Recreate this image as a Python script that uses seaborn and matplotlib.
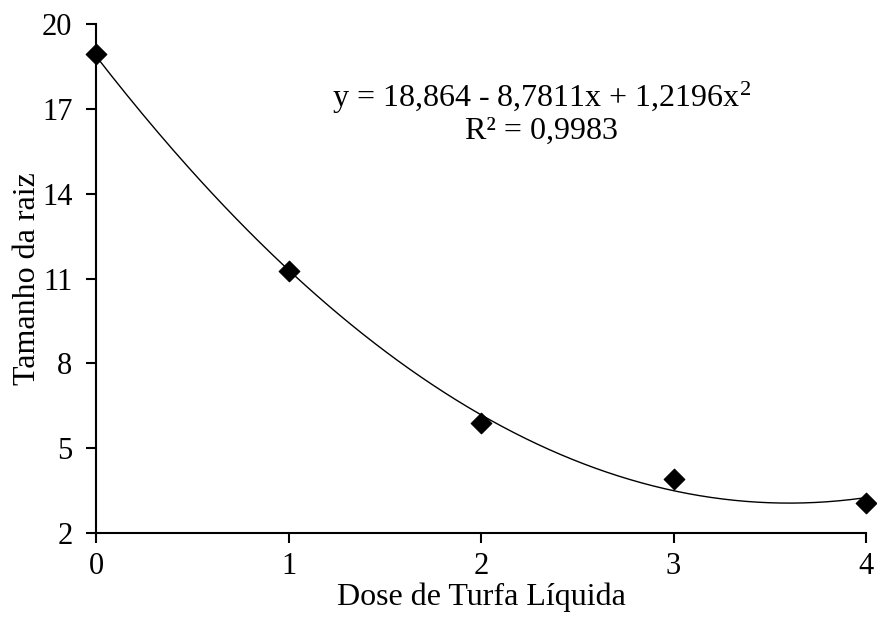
import numpy as np
import pandas as pd
import matplotlib
matplotlib.use("Agg")
import matplotlib.pyplot as plt
import seaborn as sns

# data
dose = [0, 1, 2, 3, 4]
raiz = [18.94, 11.27, 5.89, 3.91, 3.07]
# trendline coefficients as printed on the chart (c0, c1, c2)
coef = [18.864, -8.7811, 1.2196]
y_ticks = [2, 5, 8, 11, 14, 17, 20]
x_ticks = [0, 1, 2, 3, 4]

sns.set_style("ticks")
plt.rcParams['font.family'] = ['Liberation Serif', 'DejaVu Serif']
plt.rcParams['text.color'] = 'black'
plt.rcParams['axes.labelcolor'] = 'black'
plt.rcParams['mathtext.fontset'] = 'custom'
plt.rcParams['mathtext.rm'] = 'Liberation Serif'

df = pd.DataFrame({"dose": dose, "raiz": raiz})

fig = plt.figure(figsize=(8.77, 6.18), dpi=100)
ax = fig.add_axes([0.1095, 0.1375, 0.878, 0.8237])

# fitted curve from the printed equation
xs = np.linspace(dose[0], dose[-1], 200)
ys = coef[0] + coef[1] * xs + coef[2] * xs ** 2
sns.lineplot(x=xs, y=ys, ax=ax, color="black", linewidth=1.0)

sns.scatterplot(data=df, x="dose", y="raiz", ax=ax, marker="D", s=110,
                color="black", edgecolor="black", zorder=3, clip_on=False)

ax.set_xlim(0, 4)
ax.set_ylim(2, 20)
ax.set_xticks(x_ticks)
ax.set_yticks(y_ticks)
ax.tick_params(axis="both", labelsize=22, length=7, width=1.5, colors="black", pad=10)
ax.tick_params(axis="x", pad=7)
for s in ["left", "bottom"]:
    ax.spines[s].set_linewidth(1.5)
    ax.spines[s].set_color("black")
sns.despine(ax=ax)

ax.set_xlabel("Dose de Turfa Líquida", fontsize=23, labelpad=1)
ax.set_ylabel("Tamanho da raiz", fontsize=23, labelpad=0)

ax.text(0.579, 0.825, "y = 18,864 - 8,7811x + 1,2196x$\\mathrm{^2}$\nR² = 0,9983",
        transform=ax.transAxes, ha="center", va="center", fontsize=23,
        linespacing=1.05)

fig.savefig("out.png", dpi=100)
